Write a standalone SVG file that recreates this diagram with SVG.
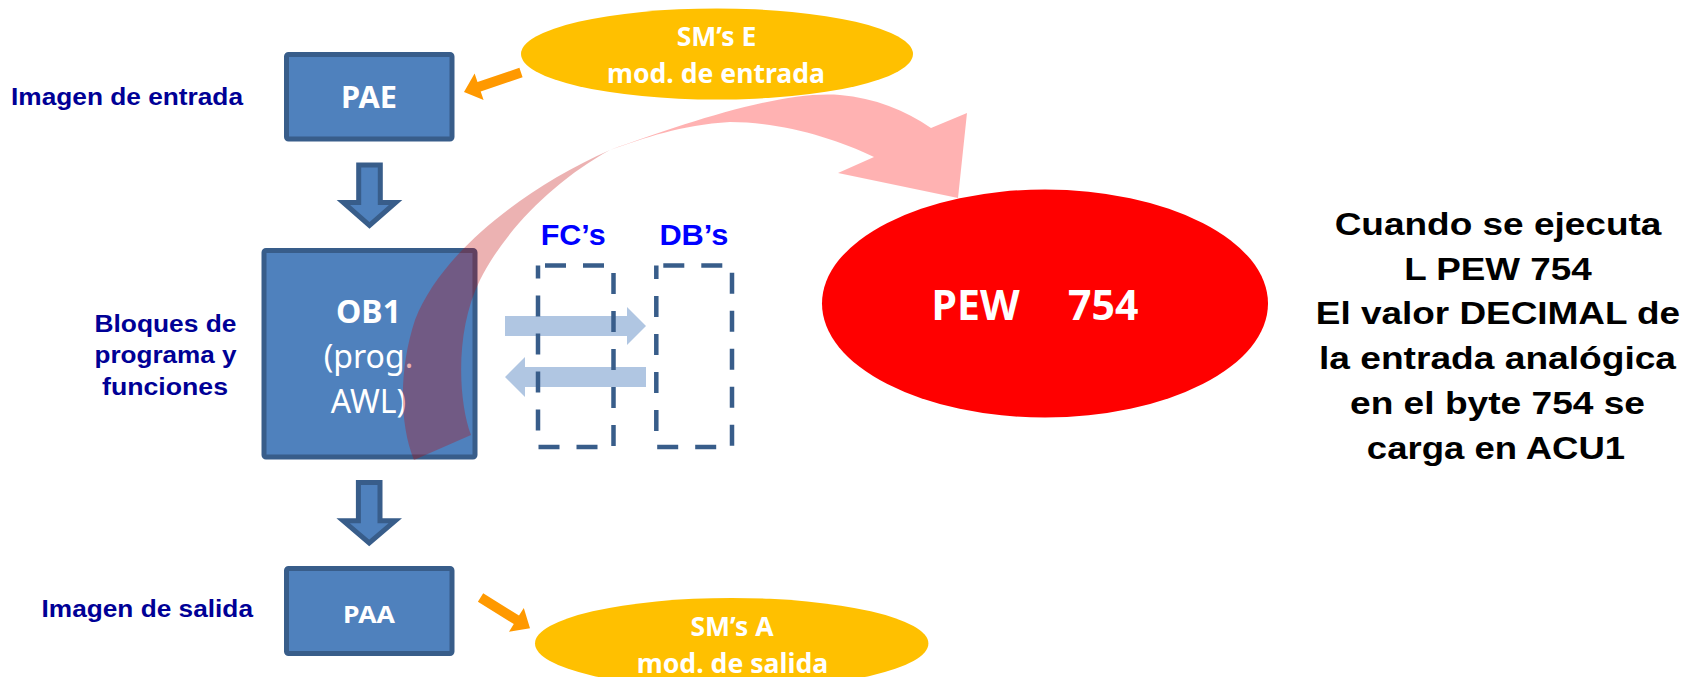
<svg xmlns="http://www.w3.org/2000/svg" width="1702" height="677" viewBox="0 0 1702 677">
  <style>
    .bg { fill: #ffffff; }
    .block { fill: #4F81BD; stroke: #385D8A; stroke-width: 5; stroke-linejoin: miter; }
    .dashbox { fill: none; stroke: #385D8A; stroke-width: 4.5; stroke-dasharray: 21 17; stroke-dashoffset: 31; }
    .module { fill: #FFC000; }
    .pew { fill: #FF0000; }
    .orange { fill: #FF9900; }
    .flow { fill: #B0C6E2; }
    .band-back { fill: #C00000; fill-opacity: 0.3; }
    .band-front { fill: #FF0000; fill-opacity: 0.3; }
    .cal { font-family: "Noto Sans", "Open Sans", sans-serif; fill: #ffffff; text-anchor: middle; }
    .b { font-weight: bold; }
    .side { font-family: "Liberation Sans", Arial, sans-serif; font-weight: bold; font-size: 23px; fill: #000096; }
    .blk { font-family: "Liberation Sans", Arial, sans-serif; font-weight: bold; font-size: 29px; fill: #0000FF; }
    .note { font-family: "Liberation Sans", Arial, sans-serif; font-weight: bold; font-size: 32px; fill: #000000; text-anchor: middle; }
  </style>

  <rect class="bg" x="0" y="0" width="1702" height="677"/>

  <!-- side labels of the scan cycle -->
  <g id="labels">
    <text class="side" x="11" y="104.5" textLength="232" lengthAdjust="spacingAndGlyphs">Imagen de entrada</text>
    <text class="side" x="94.5" y="331.7" textLength="142" lengthAdjust="spacingAndGlyphs">Bloques de</text>
    <text class="side" x="94.5" y="363.3" textLength="142" lengthAdjust="spacingAndGlyphs">programa y</text>
    <text class="side" x="102" y="395" textLength="126" lengthAdjust="spacingAndGlyphs">funciones</text>
    <text class="side" x="41.5" y="617" textLength="211.5" lengthAdjust="spacingAndGlyphs">Imagen de salida</text>
  </g>

  <!-- process image of inputs -->
  <g id="pae">
    <rect class="block" x="286.5" y="54.5" width="165.5" height="84.5" rx="2"/>
    <text class="cal b" x="369" y="108.3" font-size="31" textLength="56" lengthAdjust="spacingAndGlyphs">PAE</text>
  </g>

  <!-- main organisation block -->
  <g id="ob1">
    <rect class="block" x="264" y="250.5" width="211" height="206.5" rx="2"/>
    <text class="cal b" x="368.5" y="322.7" font-size="32">OB1</text>
    <text class="cal" x="368.5" y="368.3" font-size="32">(prog.</text>
    <text class="cal" x="368.5" y="412.7" font-size="32">AWL)</text>
  </g>

  <!-- process image of outputs -->
  <g id="paa">
    <rect class="block" x="286.5" y="568.5" width="165.5" height="85" rx="2"/>
    <text class="cal b" x="369" y="622.7" font-size="24" textLength="52" lengthAdjust="spacingAndGlyphs">PAA</text>
  </g>

  <!-- signal modules -->
  <g id="sm-e">
    <ellipse class="module" cx="717" cy="54" rx="196" ry="45.5"/>
    <text class="cal b" x="716.5" y="46" font-size="26.5">SM’s E</text>
    <text class="cal b" x="716" y="83.3" font-size="26.5" textLength="218" lengthAdjust="spacingAndGlyphs">mod. de entrada</text>
  </g>
  <g id="sm-a">
    <ellipse class="module" cx="731.7" cy="643.5" rx="196.7" ry="45.5"/>
    <text class="cal b" x="732" y="636" font-size="26.5">SM’s A</text>
    <text class="cal b" x="732.5" y="673.3" font-size="26.5" textLength="191.5" lengthAdjust="spacingAndGlyphs">mod. de salida</text>
  </g>

  <!-- peripheral input word -->
  <g id="pew">
    <ellipse class="pew" cx="1045" cy="303.5" rx="223" ry="114"/>
    <text class="cal b" font-size="41" style="text-anchor:start"><tspan x="931.5" y="320">PEW</tspan><tspan x="1068" y="320">754</tspan></text>
  </g>

  <g id="connectors">
    <!-- PAE -> OB1 -> PAA -->
    <polygon class="block" points="358.7,165 380.3,165 380.3,202.5 395.7,202.5 369.5,225.5 343.3,202.5 358.7,202.5"/>
    <polygon class="block" points="358.4,482.5 380,482.5 380,520.8 395.2,520.8 369.2,543 343.2,520.8 358.4,520.8"/>
    <!-- module <-> process image -->
    <polygon class="orange" points="519.4,67.8 477.5,82.1 474.6,73.6 464,92 483.6,100 480.7,91.5 522.6,77.2"/>
    <polygon class="orange" points="483.2,593.3 519,615.6 523.8,607.9 530,628.3 509,631.7 513.8,624 477.9,601.7"/>
    <!-- calls between FCs and DBs -->
    <polygon class="flow" points="505,316 627,316 627,307 646,326 627,345 627,336 505,336"/>
    <polygon class="flow" points="646,367 525,367 525,357 505,377 525,397 525,387 646,387"/>
    <!-- curved load arrow from OB1 to the input word -->
    <path class="band-back" d="M610,150 C520,190 440,255 415,320 C400,365 398,420 414,460 L471,435 C458,400 455,330 480,280 C505,230 555,180 610,150 Z"/>
    <path class="band-front" d="M610,150 C680,125 780,90 840,95 C875,98 905,110 931,128 L967,113 L958,198 L838,173 L874,157 C835,138 780,122 730,122 C680,125 645,138 610,150 Z"/>
  </g>

  <!-- function and data blocks -->
  <g id="fc">
    <rect class="dashbox" x="538" y="265.5" width="75.5" height="181.5"/>
    <text class="blk" x="540.7" y="245" textLength="65" lengthAdjust="spacingAndGlyphs">FC’s</text>
  </g>
  <g id="db">
    <rect class="dashbox" x="656.3" y="265.5" width="75.7" height="181.5"/>
    <text class="blk" x="659.4" y="245" textLength="69" lengthAdjust="spacingAndGlyphs">DB’s</text>
  </g>

  <!-- explanation -->
  <g id="note">
    <text class="note" x="1498" y="235" textLength="326.7" lengthAdjust="spacingAndGlyphs">Cuando se ejecuta</text>
    <text class="note" x="1498" y="279.7" textLength="187.7" lengthAdjust="spacingAndGlyphs">L PEW 754</text>
    <text class="note" x="1498" y="324.4" textLength="364.3" lengthAdjust="spacingAndGlyphs">El valor DECIMAL de</text>
    <text class="note" x="1497.5" y="369.1" textLength="357" lengthAdjust="spacingAndGlyphs">la entrada analógica</text>
    <text class="note" x="1497.5" y="413.8" textLength="295" lengthAdjust="spacingAndGlyphs">en el byte 754 se</text>
    <text class="note" x="1496" y="458.5" textLength="258.3" lengthAdjust="spacingAndGlyphs">carga en ACU1</text>
  </g>
</svg>
